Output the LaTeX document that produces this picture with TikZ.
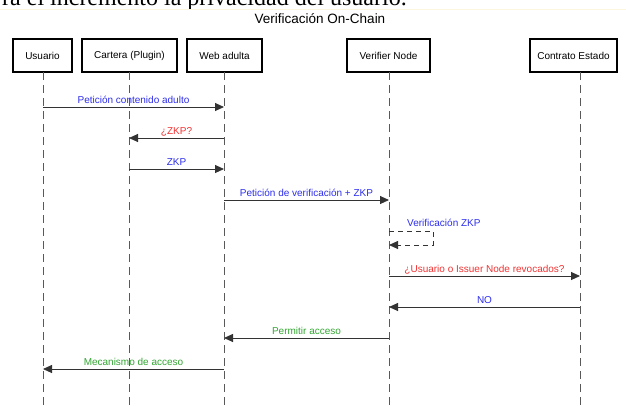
\documentclass[tikz,border=0pt]{standalone}
\usepackage{fontspec}
\setmainfont{Liberation Sans}
\newfontfamily\bodyserif{Liberation Serif}
\usetikzlibrary{arrows.meta}
\definecolor{msgblue}{RGB}{45,45,235}
\definecolor{msgred}{RGB}{240,50,50}
\definecolor{msggreen}{RGB}{50,165,50}
\definecolor{pageline}{RGB}{250,247,222}
\begin{document}
\begin{tikzpicture}[x=1pt,y=-1pt,
  actor/.style={draw=black,line width=1.3pt,minimum height=33pt,inner sep=0pt,
    font=\fontsize{10}{12}\selectfont},
  life/.style={draw=black!65,line width=0.9pt,dash pattern=on 8pt off 5pt},
  msg/.style={draw=black!80,line width=0.9pt,-{Triangle[length=9pt,width=8pt]}},
  selfmsg/.style={msg,dash pattern=on 5pt off 4pt},
  lbl/.style={font=\fontsize{10}{12}\selectfont,inner sep=0pt,anchor=base,yshift=4pt,pos=0.5}]
\useasboundingbox (0,0) rectangle (626,405);

% running text of the page above the figure
\begin{scope}
  \clip (0,0) rectangle (626,8.5);
  \node[anchor=base west,inner sep=0pt,font=\bodyserif\fontsize{24}{28}\selectfont] (docline)
    at (2,5) {rá el incremento la privacidad del usuario.};
\end{scope}
\draw[pageline,line width=0.8pt] (0,9) -- (626,9);

% title
\node[anchor=base,font=\fontsize{13.5}{16}\selectfont,inner sep=0pt] (title) at (320,23) {Verificación On-Chain};

% participants
\node[actor,minimum width=59pt] (usuario)  at (42.5,55.5) {Usuario};
\node[actor,minimum width=95pt] (cartera)  at (129.5,55.5) {Cartera (Plugin)};
\node[actor,minimum width=75pt] (web)      at (224.5,55.5) {Web adulta};
\node[actor,minimum width=83pt] (verifier) at (388.5,55.5) {Verifier Node};
\node[actor,minimum width=87pt] (contrato) at (573.5,55.5) {Contrato Estado};

% lifelines
\coordinate (lu) at (43,72);
\coordinate (lc) at (129,72);
\coordinate (lw) at (224,72);
\coordinate (lv) at (389,72);
\coordinate (lk) at (580,72);
\coordinate (bottom) at (0,405);
\foreach \l in {lu,lc,lw,lv,lk}
  \draw[life] (\l) -- (\l |- bottom);

% message levels
\coordinate (m1) at (0,107);
\coordinate (m2) at (0,138);
\coordinate (m3) at (0,169);
\coordinate (m4) at (0,200);
\coordinate (m5a) at (0,231);
\coordinate (m5b) at (0,245);
\coordinate (m6) at (0,276);
\coordinate (m7) at (0,307);
\coordinate (m8) at (0,338);
\coordinate (m9) at (0,369);

% messages
\draw[msg] (lu |- m1) -- node[lbl,text=msgblue] {Petición contenido adulto} (lw |- m1);
\draw[msg] (lw |- m2) -- node[lbl,text=msgred] {¿ZKP?} (lc |- m2);
\draw[msg] (lc |- m3) -- node[lbl,text=msgblue] {ZKP} (lw |- m3);
\draw[msg] (lw |- m4) -- node[lbl,text=msgblue] {Petición de verificación + ZKP} (lv |- m4);

% self call on the verifier
\coordinate (loopx) at (433,0);
\draw[selfmsg] (lv |- m5a) -- (loopx |- m5a) -- (loopx |- m5b) -- (lv |- m5b);
\node[anchor=base west,inner sep=0pt,font=\fontsize{10}{12}\selectfont,text=msgblue] (selflbl)
  at ([xshift=18pt,yshift=5pt]lv |- m5a) {Verificación ZKP};

\draw[msg] (lv |- m6) -- node[lbl,text=msgred] {¿Usuario o Issuer Node revocados?} (lk |- m6);
\draw[msg] (lk |- m7) -- node[lbl,text=msgblue] {NO} (lv |- m7);
\draw[msg] (lv |- m8) -- node[lbl,text=msggreen] {Permitir acceso} (lw |- m8);
\draw[msg] (lw |- m9) -- node[lbl,text=msggreen] {Mecanismo de acceso} (lu |- m9);
\end{tikzpicture}
\end{document}
